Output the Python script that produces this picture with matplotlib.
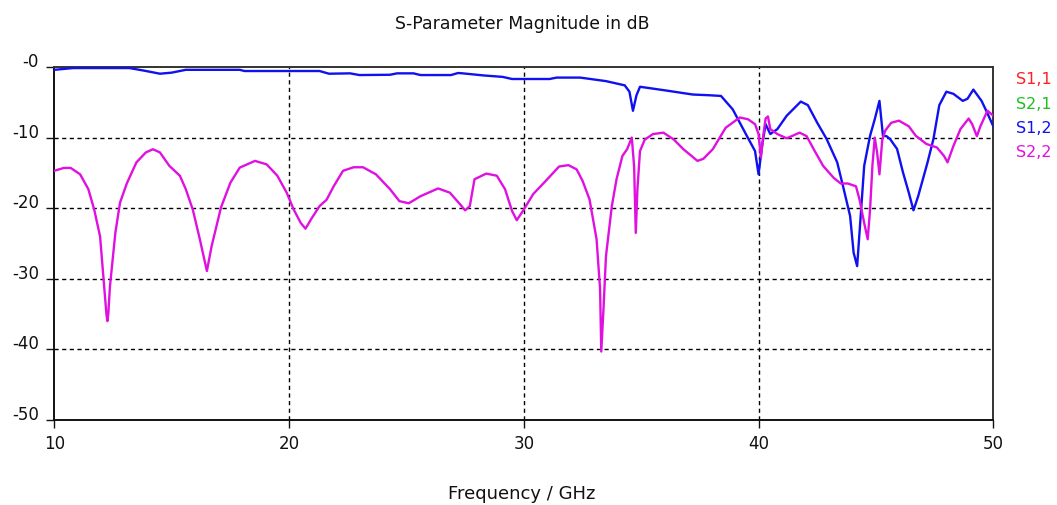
#!/usr/bin/env python3
"""S-parameter magnitude plot (S1,2 and S2,2) redrawn from a simulator screenshot."""
import numpy as np
import matplotlib
matplotlib.use("Agg")
import matplotlib.pyplot as plt
from matplotlib.transforms import ScaledTranslation

# S1,2 (blue): frequency in GHz, magnitude in dB
s12_freq = [10.0, 10.8, 13.2, 13.8, 14.5, 15.0, 15.6, 17.9, 18.1, 21.3, 21.7, 22.6,
            23.0, 24.3, 24.6, 25.3, 25.6, 26.9, 27.2, 27.4, 28.3, 29.1, 29.5, 31.1,
            31.4, 32.4, 33.5, 34.3, 34.5, 34.65, 34.8, 34.95, 36.0, 37.2, 37.9, 38.4,
            38.9, 39.5, 39.85, 40.0, 40.15, 40.3, 40.5, 40.8, 41.2, 41.8, 42.1, 42.5,
            42.9, 43.35, 43.6, 43.9, 44.05, 44.2, 44.3, 44.5, 44.75, 44.95, 45.15, 45.3,
            45.45, 45.6, 45.9, 46.15, 46.4, 46.6, 46.8, 47.2, 47.45, 47.7, 48.0, 48.3,
            48.7, 48.9, 49.15, 49.5, 49.7, 50.0]
s12_db = [-0.4, -0.15, -0.15, -0.5, -0.95, -0.8, -0.4, -0.4, -0.57, -0.57, -0.95, -0.9,
          -1.14, -1.1, -0.9, -0.9, -1.14, -1.14, -0.85, -0.9, -1.2, -1.4, -1.7, -1.7,
          -1.5, -1.5, -2.0, -2.6, -3.5, -6.2, -4.0, -2.8, -3.3, -3.9, -4.0, -4.1,
          -6.0, -9.75, -11.9, -15.2, -11.2, -8.1, -9.5, -8.8, -6.9, -4.9, -5.4, -7.9,
          -10.2, -13.5, -16.9, -21.1, -26.3, -28.2, -23.5, -14.0, -9.75, -7.4, -4.8, -9.75,
          -9.8, -10.2, -11.6, -14.9, -17.8, -20.3, -18.3, -13.5, -10.2, -5.4, -3.5, -3.8,
          -4.8, -4.5, -3.2, -4.8, -6.2, -8.4]

# S2,2 (magenta)
s22_freq = [10.0, 10.4, 10.7, 11.1, 11.45, 11.7, 11.95, 12.1, 12.22, 12.26, 12.3, 12.37,
            12.6, 12.8, 13.1, 13.5, 13.9, 14.2, 14.5, 14.9, 15.35, 15.6, 15.9, 16.2,
            16.5, 16.7, 17.1, 17.5, 17.9, 18.55, 19.05, 19.5, 19.9, 20.2, 20.5, 20.7,
            20.95, 21.3, 21.6, 21.9, 22.3, 22.75, 23.15, 23.7, 24.3, 24.7, 25.1, 25.6,
            26.35, 26.85, 27.3, 27.5, 27.7, 27.9, 28.4, 28.85, 29.2, 29.5, 29.7, 30.0,
            30.4, 31.0, 31.5, 31.9, 32.25, 32.5, 32.8, 33.1, 33.25, 33.3, 33.4, 33.5,
            33.75, 33.95, 34.2, 34.4, 34.6, 34.7, 34.77, 34.84, 34.95, 35.15, 35.5, 35.95,
            36.4, 36.8, 37.4, 37.65, 38.05, 38.6, 39.2, 39.55, 39.85, 40.0, 40.1, 40.2,
            40.3, 40.4, 40.5, 40.8, 41.2, 41.75, 42.05, 42.35, 42.75, 43.2, 43.5, 43.8,
            44.15, 44.3, 44.5, 44.65, 44.75, 44.85, 44.95, 45.05, 45.15, 45.27, 45.4, 45.65,
            45.98, 46.4, 46.7, 47.15, 47.6, 47.9, 48.05, 48.3, 48.6, 48.95, 49.1, 49.3,
            49.45, 49.75, 50.0]
s22_db = [-14.7, -14.3, -14.3, -15.2, -17.3, -20.2, -24.0, -30.1, -35.0, -36.0, -35.0, -31.1,
          -23.5, -19.2, -16.4, -13.5, -12.1, -11.65, -12.1, -14.0, -15.4, -17.3, -20.2, -24.4,
          -28.9, -25.4, -19.9, -16.4, -14.25, -13.3, -13.8, -15.4, -17.8, -20.2, -22.1, -22.9,
          -21.5, -19.7, -18.8, -16.9, -14.7, -14.2, -14.2, -15.2, -17.3, -19.0, -19.3, -18.3,
          -17.2, -17.8, -19.5, -20.3, -19.7, -15.9, -15.1, -15.4, -17.3, -20.4, -21.7, -20.2,
          -18.0, -15.9, -14.1, -13.9, -14.5, -16.1, -18.75, -24.4, -31.5, -40.3, -33.9, -26.8,
          -19.7, -15.9, -12.6, -11.65, -10.0, -14.1, -23.5, -17.3, -11.9, -10.3, -9.5, -9.3,
          -10.3, -11.65, -13.3, -13.0, -11.65, -8.6, -7.15, -7.4, -8.1, -9.5, -12.8, -9.75,
          -7.3, -7.0, -8.8, -9.5, -10.1, -9.3, -9.8, -11.65, -14.0, -15.7, -16.5, -16.5,
          -16.9, -18.75, -22.1, -24.4, -20.2, -14.0, -10.0, -12.1, -15.2, -10.3, -9.0, -7.9,
          -7.6, -8.4, -9.75, -10.9, -11.4, -12.6, -13.5, -11.2, -8.8, -7.3, -8.1, -9.8,
          -8.4, -6.2, -6.9]

x_ticks = [10, 20, 30, 40, 50]
y_ticks = [0, -10, -20, -30, -40, -50]
y_tick_labels = ["-0", "-10", "-20", "-30", "-40", "-50"]
legend_names = ["S1,1", "S2,1", "S1,2", "S2,2"]
legend_colors = ["#ff2020", "#20c020", "#1010f0", "#e010e0"]

plt.rcParams["font.family"] = ["DejaVu Sans"]

fig = plt.figure(figsize=(10.57, 5.05), dpi=100)
ax = fig.add_axes([54.3 / 1057, 1 - 420 / 505, (993.3 - 54.3) / 1057, (420 - 67) / 505])

ax.plot(s12_freq, s12_db, color="#1010f0", lw=1.7, zorder=3)
ax.plot(s22_freq, s22_db, color="#e010e0", lw=1.7, zorder=3)

ax.set_xlim(10, 50)
ax.set_ylim(-50, 0)
ax.set_xticks(x_ticks)
ax.set_yticks(y_ticks)
ax.set_yticklabels(y_tick_labels)

for v in x_ticks[1:-1]:
    ax.axvline(v, color="black", lw=1.0, ls=(0, (3, 2.5)), zorder=1)
for v in y_ticks[1:-1]:
    ax.axhline(v, color="black", lw=1.0, ls=(0, (3, 2.5)), zorder=1)

for side in ("left", "bottom"):
    ax.spines[side].set_linewidth(1.4)
    ax.spines[side].set_color("#111111")
for side in ("top", "right"):
    ax.spines[side].set_linewidth(1.4)
    ax.spines[side].set_color("#333333")

ax.tick_params(axis="both", direction="out", length=6, width=1.0, labelsize=12, colors="#111111")
ax.tick_params(axis="y", pad=5)
ax.tick_params(axis="x", pad=5)
# the y labels sit a little above their ticks
for lab in ax.get_yticklabels():
    lab.set_transform(lab.get_transform() + ScaledTranslation(0, 5 / 72, fig.dpi_scale_trans))

fig.text(522 / 1057, 1 - 24 / 505, "S-Parameter Magnitude in dB", ha="center", va="center",
         fontsize=12.4, color="#111111")
fig.text(522 / 1057, 1 - 494 / 505, "Frequency / GHz", ha="center", va="center",
         fontsize=13, color="#111111")

for i, (name, col) in enumerate(zip(legend_names, legend_colors)):
    fig.text(1016 / 1057, 1 - (80 + 24.2 * i) / 505, name, ha="left", va="center",
             fontsize=11.5, color=col)

fig.savefig("out.png", dpi=100)
